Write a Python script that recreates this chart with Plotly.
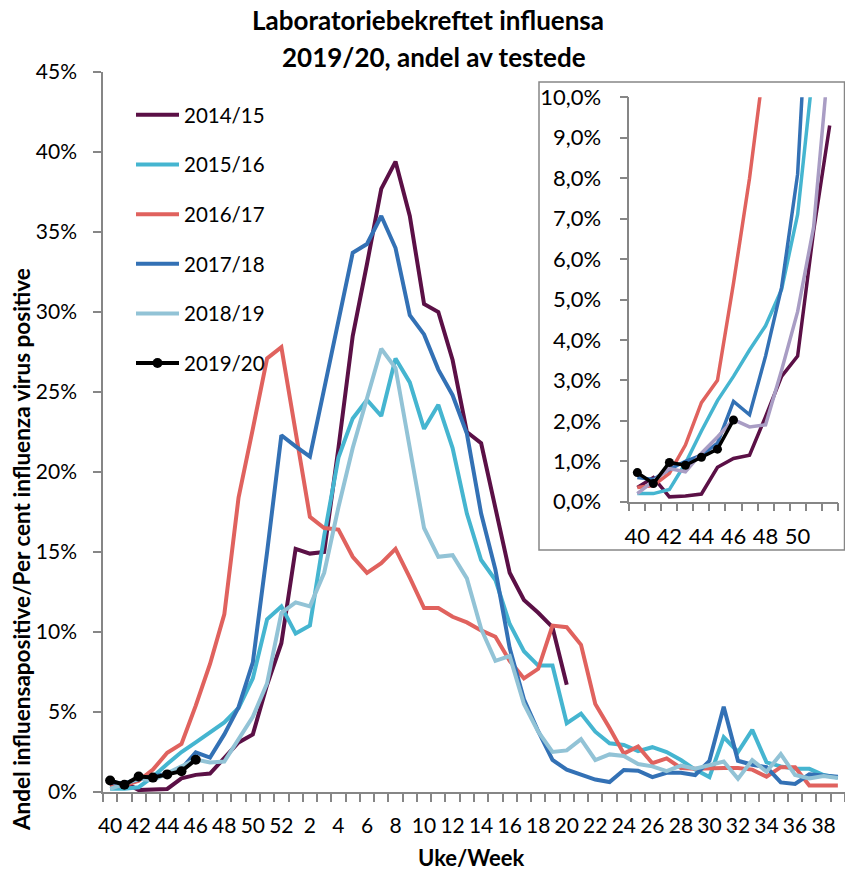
import plotly.graph_objects as go

weeks = [40, 41, 42, 43, 44, 45, 46, 47, 48, 49, 50, 51, 52,
         1, 2, 3, 4, 5, 6, 7, 8, 9, 10, 11, 12, 13, 14, 15, 16, 17, 18, 19, 20,
         21, 22, 23, 24, 25, 26, 27, 28, 29, 30, 31, 32, 33, 34, 35, 36, 37, 38, 39]

s2014_15 = [0.35, 0.6, 0.12, 0.14, 0.19, 0.85, 1.07, 1.15, 2.1, 3.1, 3.6, 6.7, 9.3,
            15.2, 14.9, 15.0, 21.5, 28.5, 33.0, 37.7, 39.4, 36.0, 30.5, 30.0, 27.0, 22.5, 21.8,
            17.7, 13.7, 12.0, 11.2, 10.3, 6.7] + [None] * 19

s2015_16 = [0.2, 0.2, 0.3, 0.95, 1.75, 2.5, 3.1, 3.75, 4.35, 5.25, 7.1, 10.8, 11.6,
            9.9, 10.4, 16.0, 20.9, 23.35, 24.5, 23.5, 27.1, 25.6, 22.7, 24.2, 21.5, 17.4, 14.5,
            13.25, 10.5, 8.8, 7.9, 7.9, 4.3, 4.9, 3.77, 3.04, 2.94, 2.55, 2.8, 2.5, 2.0, 1.4,
            0.93, 3.43, 2.5, 3.88, 1.85, 1.6, 1.45, 1.45, 1.06, 0.9]

s2016_17 = [0.35, 0.4, 0.7, 1.4, 2.45, 3.0, 5.4, 8.0, 11.1, 18.4, 22.7, 27.1, 27.8,
            22.4, 17.2, 16.5, 16.4, 14.7, 13.7, 14.3, 15.2, 13.4, 11.5, 11.5, 10.95, 10.6, 10.1,
            9.7, 8.2, 7.1, 7.7, 10.4, 10.3, 9.2, 5.5, 4.0, 2.4, 2.85, 1.8, 2.1, 1.5, 1.45,
            1.5, 1.5, 1.5, 1.4, 0.96, 1.55, 1.55, 0.4, 0.4, 0.4]

s2017_18 = [0.6, 0.55, 0.8, 1.0, 1.15, 1.45, 2.48, 2.15, 3.6, 5.3, 8.1, 15.0, 22.3,
            21.6, 20.96, 25.2, 29.4, 33.7, 34.25, 36.0, 34.0, 29.8, 28.6, 26.4, 24.8, 22.4, 17.4,
            13.9, 9.0, 5.8, 3.8, 2.0, 1.4, 1.06, 0.78, 0.62, 1.37, 1.33, 0.93, 1.2, 1.2, 1.06,
            1.95, 5.33, 1.95, 1.7, 1.55, 0.6, 0.5, 1.1, 1.06, 0.96]

s2018_19 = [0.2, 0.5, 0.82, 0.74, 1.2, 1.6, 2.03, 1.85, 1.9, 3.25, 4.7, 6.8, 11.2,
            11.85, 11.6, 13.7, 17.8, 21.5, 24.6, 27.7, 26.5, 21.5, 16.5, 14.7, 14.8, 13.35, 10.2,
            8.2, 8.5, 5.5, 3.77, 2.5, 2.6, 3.3, 2.0, 2.35, 2.25, 1.75, 1.6, 1.3, 1.65, 1.45,
            1.65, 1.9, 0.82, 2.0, 1.27, 2.37, 1.06, 0.85, 1.0, 0.88]

s2019_20 = [0.72, 0.45, 0.97, 0.9, 1.1, 1.3, 2.02] + [None] * 45

season_names = ["2014/15", "2015/16", "2016/17", "2017/18", "2018/19", "2019/20"]
series = [s2014_15, s2015_16, s2016_17, s2017_18, s2018_19, s2019_20]
colors = ["#5B1046", "#45B5D0", "#E0625E", "#3371B5", "#92C3D6", "#000000"]
inset_colors = ["#5B1046", "#45B5D0", "#E0625E", "#3371B5", "#A99DC4", "#000000"]

main_yticks = list(range(0, 50, 5))
inset_yticks = list(range(0, 11))
inset_n = 13  # weeks 40-52

FONT = "Lato"
GREY = "#868686"

x_idx = list(range(len(weeks)))

fig = go.Figure()

for name, vals, col in zip(season_names, series, inset_colors):
    is_cur = name == "2019/20"
    fig.add_trace(go.Scatter(
        x=x_idx[:inset_n], y=vals[:inset_n], xaxis="x2", yaxis="y2",
        mode="lines+markers" if is_cur else "lines",
        line=dict(color=col, width=3.5),
        marker=dict(size=9, color=col),
        showlegend=False, hoverinfo="skip",
    ))

for name, vals, col in zip(season_names, series, colors):
    is_cur = name == "2019/20"
    fig.add_trace(go.Scatter(
        x=x_idx, y=vals, name=name, legendgroup=name,
        mode="lines+markers" if is_cur else "lines",
        line=dict(color=col, width=4),
        marker=dict(size=10, color=col),
    ))

L, T, B = 103, 72, 78
W, H = 845, 870
pw = W - L
ph = H - T - B

def px(x):
    return (x - L) / pw

def py(y):
    return (H - B - y) / ph

tick_common = dict(ticklen=8, tickwidth=1.5, tickcolor=GREY)

fig.update_layout(
    width=W, height=H,
    margin=dict(l=L, r=0, t=T, b=B),
    paper_bgcolor="white", plot_bgcolor="white",
    font=dict(family=FONT, color="black", size=21),
    showlegend=True,
    legend=dict(
        x=px(131), y=py(95), xanchor="left", yanchor="top",
        bgcolor="rgba(0,0,0,0)", font=dict(size=20.5, family=FONT),
        tracegroupgap=20, itemwidth=43,
    ),
    xaxis=dict(
        range=[-0.5, len(weeks) - 0.5],
        tickvals=x_idx[::2], ticktext=[str(w) for w in weeks[::2]],
        ticks="", showline=True, linecolor=GREY, linewidth=1.5,
        showgrid=False, zeroline=False,
        tickfont=dict(size=21), ticklabelstandoff=14,
        minor=dict(ticks="outside", tick0=-0.5, dtick=1, showgrid=False, **tick_common),
    ),
    yaxis=dict(
        range=[0, 45],
        tickvals=main_yticks, ticktext=[f"{v}%" for v in main_yticks],
        ticks="outside", **tick_common,
        showline=True, linecolor=GREY, linewidth=1.5,
        showgrid=False, zeroline=False, tickfont=dict(size=21), ticklabelstandoff=12,
    ),
    xaxis2=dict(
        domain=[px(629.3), px(837.7)], anchor="y2",
        range=[-0.5, inset_n - 0.5],
        tickvals=x_idx[:11:2], ticktext=[str(w) for w in weeks[:11:2]],
        ticks="", showline=True, linecolor=GREY, linewidth=1.5,
        showgrid=False, zeroline=False, tickfont=dict(size=22), ticklabelstandoff=14,
        minor=dict(ticks="outside", tick0=-0.5, dtick=1, showgrid=False, **tick_common),
    ),
    yaxis2=dict(
        domain=[py(501.7), py(97.3)], anchor="x2",
        range=[0, 10],
        tickvals=inset_yticks, ticktext=[f"{v},0%" for v in inset_yticks],
        ticks="outside", **tick_common,
        showline=True, linecolor=GREY, linewidth=1.5,
        showgrid=False, zeroline=False, tickfont=dict(size=22), ticklabelstandoff=14,
    ),
    shapes=[dict(type="rect", xref="paper", yref="paper",
                 x0=px(539), x1=px(844.5), y0=py(550), y1=py(82),
                 line=dict(color=GREY, width=1.5), fillcolor="rgba(0,0,0,0)")],
    annotations=[
        dict(text="<b>Laboratoriebekreftet influensa</b>", xref="paper", yref="paper",
             x=px(428), y=py(20), xanchor="center", yanchor="middle", showarrow=False,
             font=dict(size=26, family=FONT)),
        dict(text="<b>2019/20, andel av testede</b>", xref="paper", yref="paper",
             x=px(434), y=py(57), xanchor="center", yanchor="middle", showarrow=False,
             font=dict(size=26, family=FONT)),
        dict(text="<b>Andel influensapositive/Per cent influenza virus positive</b>",
             xref="paper", yref="paper", x=px(21), y=py(550), textangle=-90,
             xanchor="center", yanchor="middle", showarrow=False,
             font=dict(size=22.5, family=FONT)),
        dict(text="<b>Uke/Week</b>", xref="paper", yref="paper",
             x=px(471), y=py(858), xanchor="center", yanchor="middle", showarrow=False,
             font=dict(size=22, family=FONT)),
    ],
)

fig.write_html("out.html",
               config={"displayModeBar": False},
               post_script="document.body.style.margin='0';document.body.style.overflow='hidden';")
